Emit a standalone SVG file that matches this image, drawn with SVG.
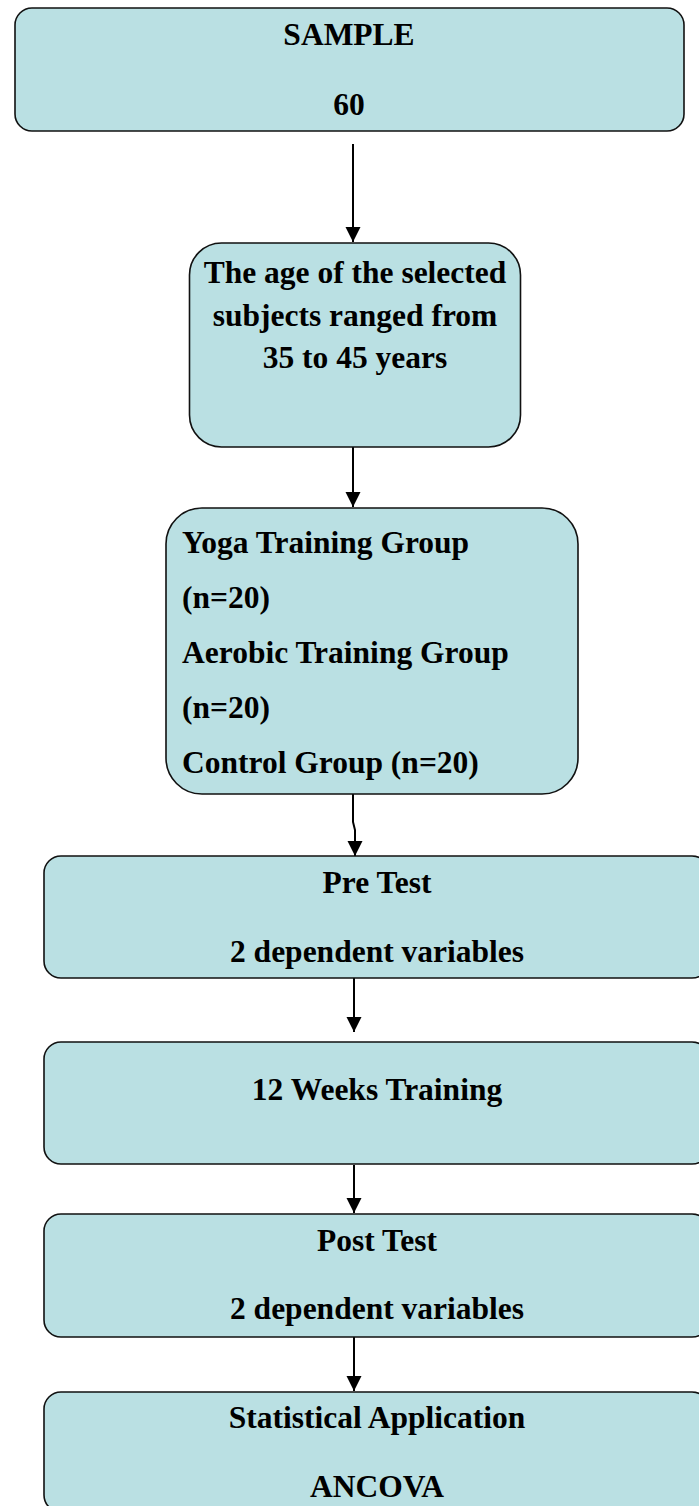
<svg xmlns="http://www.w3.org/2000/svg" width="699" height="1506" viewBox="0 0 699 1506">
  <style>
    .box { fill: #BAE0E3; stroke: #111; stroke-width: 1.6; }
    .t { font-family: "Liberation Serif", "Times New Roman", serif; font-weight: bold; font-size: 31.5px; fill: #000; }
    .c { text-anchor: middle; }
    .conn { stroke: #000; stroke-width: 2; fill: none; marker-end: url(#arrow); }
  </style>
  <defs>
    <marker id="arrow" markerUnits="userSpaceOnUse" markerWidth="16" markerHeight="16" refX="15" refY="7.5" orient="auto">
      <path d="M0,0 L15,7.5 L0,15 Z" fill="#000"/>
    </marker>
  </defs>
  <rect width="699" height="1506" fill="#fff"/>

  <g id="connectors">
    <line class="conn" x1="353" y1="144" x2="353" y2="242"/>
    <line class="conn" x1="353" y1="447" x2="353" y2="507"/>
    <polyline class="conn" points="353,794 353,822 355,830 355,856"/>
    <line class="conn" x1="354" y1="978" x2="354" y2="1032"/>
    <line class="conn" x1="354" y1="1165" x2="354" y2="1213"/>
    <line class="conn" x1="354" y1="1337" x2="354" y2="1391"/>
  </g>

  <g id="sample">
    <rect class="box" x="15" y="8" width="669" height="123" rx="17"/>
    <text class="t c" x="349" y="45">SAMPLE</text>
    <text class="t c" x="349" y="115">60</text>
  </g>

  <g id="age">
    <rect class="box" x="189.5" y="243" width="331" height="204" rx="32"/>
    <text class="t c" x="355" y="283">The age of the selected</text>
    <text class="t c" x="355" y="326">subjects ranged from</text>
    <text class="t c" x="355" y="368">35 to 45 years</text>
  </g>

  <g id="groups">
    <rect class="box" x="166" y="508" width="412" height="286" rx="36"/>
    <text class="t" x="182" y="553">Yoga Training Group</text>
    <text class="t" x="182" y="608">(n=20)</text>
    <text class="t" x="182" y="663">Aerobic Training Group</text>
    <text class="t" x="182" y="718">(n=20)</text>
    <text class="t" x="182" y="773">Control Group (n=20)</text>
  </g>

  <g id="pretest">
    <rect class="box" x="44" y="856" width="665" height="122" rx="17"/>
    <text class="t c" x="377" y="893">Pre Test</text>
    <text class="t c" x="377" y="962">2 dependent variables</text>
  </g>

  <g id="training">
    <rect class="box" x="44" y="1042" width="665" height="122" rx="17"/>
    <text class="t c" x="377" y="1100">12 Weeks Training</text>
  </g>

  <g id="posttest">
    <rect class="box" x="44" y="1214" width="665" height="123" rx="17"/>
    <text class="t c" x="377" y="1251">Post Test</text>
    <text class="t c" x="377" y="1319">2 dependent variables</text>
  </g>

  <g id="statistics">
    <rect class="box" x="44" y="1392" width="665" height="120" rx="17"/>
    <text class="t c" x="377" y="1428">Statistical Application</text>
    <text class="t c" x="377" y="1497">ANCOVA</text>
  </g>
</svg>
